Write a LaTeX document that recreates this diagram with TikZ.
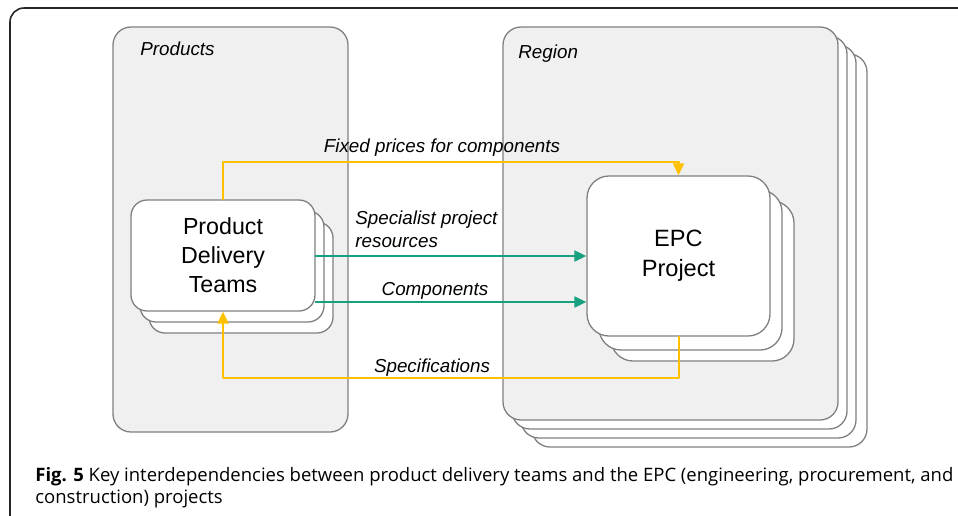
\documentclass[tikz,border=0pt]{standalone}
\usepackage{fontspec}
\setmainfont{Liberation Sans}
\newfontfamily\capfont{Open Sans}
\usetikzlibrary{arrows.meta}
\definecolor{boxgray}{HTML}{F0F0F0}
\definecolor{edgegray}{HTML}{808080}
\definecolor{linkyellow}{HTML}{FFC000}
\definecolor{linkgreen}{HTML}{17A07F}
\begin{document}
\begin{tikzpicture}[x=0.5pt, y=-0.5pt, line join=round, line cap=round, >={Triangle[length=6pt,width=5.5pt]},
		box/.style={draw=edgegray, line width=0.65pt, inner sep=0pt},
		area/.style={box, fill=boxgray, rounded corners=9pt},
		team/.style={box, fill=white, rounded corners=8pt, minimum width=92pt, minimum height=55.5pt, align=center, font=\fontsize{11.6}{14.5}\selectfont},
		epcbox/.style={box, fill=white, rounded corners=11pt, minimum width=91.5pt, minimum height=80pt, align=center, font=\fontsize{11.8}{15}\selectfont},
		lbl/.style={font=\fontsize{9.4}{11.5}\selectfont\itshape, inner sep=0pt},
		ylink/.style={->, draw=linkyellow, line width=1pt},
		glink/.style={->, draw=linkgreen, line width=1pt}]
				\useasboundingbox (0,0) rectangle (958,515);
				\draw[line width=0.8pt, black!85, rounded corners=7pt] (10,520)--(10,8)--(962,8);
				% products column
				\node[area, minimum width=117.5pt, minimum height=202.5pt] (products) at (230.5,229.5) {};
				\node[lbl, anchor=west] (prodlbl) at (140,49) {Products};
				% region stack
				\foreach \dx/\dy/\n in {29/27/d,18/18/c,9/9/b}
					\node[area, fill=white, minimum width=167.5pt, minimum height=196.5pt] (region\n) at ({670.5+\dx},{223.5+\dy}) {};
				\node[area, minimum width=167.5pt, minimum height=196.5pt] (region) at (670.5,223.5) {};
				\node[lbl, anchor=west] (reglbl) at (518,54) {Region};
				% team stack
				\foreach \dx/\dy/\n in {18/22/c,9/11/b}
					\node[team] (pdt\n) at ({223+\dx},{255.5+\dy}) {};
				\node[team] (pdt) at (223,255.5) {Product\\Delivery\\Teams};
				% project stack
				\foreach \dx/\dy/\n in {24/25/c,12/14/b}
					\node[epcbox] (epc\n) at ({678.5+\dx},{256+\dy}) {};
				\node[epcbox] (epc) at (678.5,256) {EPC\\Project};
				% links
				\draw[ylink] (pdt.north)--(pdt.north |- 0,162)-|(epc.north);
				\draw[glink] (pdt.east |- 0,256)--(epc.west |- 0,256);
				\draw[glink] (pdt.east |- 0,302)--(epc.west |- 0,302);
				\draw[ylink] (epc.south)--(epc.south |- 0,378)-|(pdt.south);
				\node[lbl] (fixlbl) at (442,148) {Fixed prices for components};
				\node[lbl, anchor=west, align=left] (reslbl) at (355,229.5) {Specialist project\\resources};
				\node[lbl] (complbl) at (435,291) {Components};
				\node[lbl] (speclbl) at (432,368) {Specifications};
				% caption
				\node[anchor=west, align=left, inner sep=0pt, font=\capfont\fontsize{9.25}{11}\selectfont] (caption) at (35,488)
					{\textbf{Fig. 5} Key interdependencies between product delivery teams and the EPC (engineering, procurement, and\\construction) projects};
\end{tikzpicture}
\end{document}
